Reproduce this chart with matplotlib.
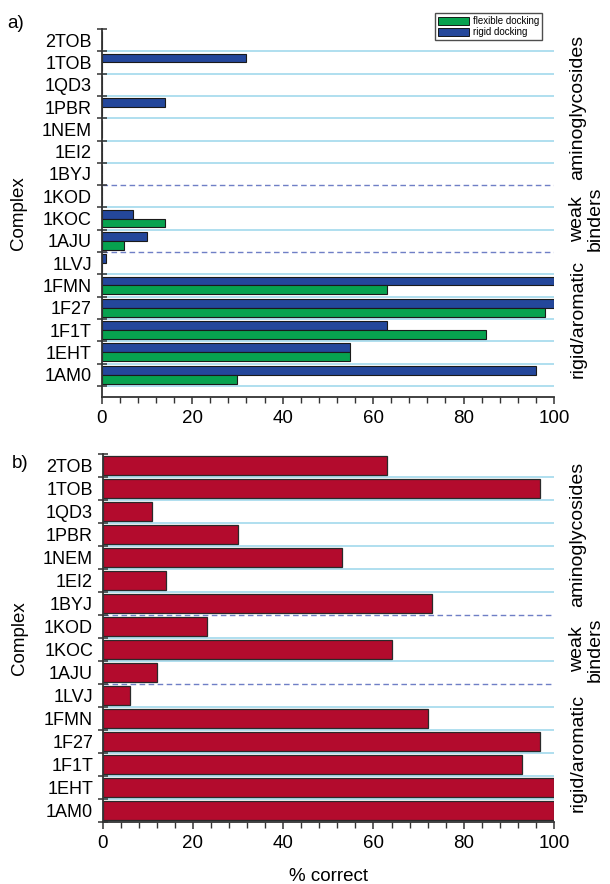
import numpy as np
import matplotlib
matplotlib.use("Agg")
import matplotlib.pyplot as plt
from matplotlib.ticker import MultipleLocator, FixedLocator
from matplotlib.transforms import blended_transform_factory
from matplotlib.patches import Patch

plt.rcParams['font.family'] = ['Liberation Sans', 'DejaVu Sans']

# data (% correct)
complexes = ['2TOB', '1TOB', '1QD3', '1PBR', '1NEM', '1EI2', '1BYJ', '1KOD',
             '1KOC', '1AJU', '1LVJ', '1FMN', '1F27', '1F1T', '1EHT', '1AM0']
rigid = [0, 32, 0, 14, 0, 0, 0, 0, 7, 10, 1, 100, 100, 63, 55, 96]
flexible = [0, 0, 0, 0, 0, 0, 0, 0, 14, 5, 0, 63, 98, 85, 55, 30]
combined = [63, 97, 11, 30, 53, 14, 73, 23, 64, 12, 6, 72, 97, 93, 100, 100]

groups = ['aminoglycosides', 'weak\nbinders', 'rigid/aromatic']
group_first = [0, 7, 10]
group_last = [6, 9, 15]

BLUE = '#24479b'
GREEN = '#07a24f'
RED = '#b30b2d'
GRID = '#a9dcee'
DASH = '#6f7fc6'
SPINE = '#333333'

fig = plt.figure(figsize=(6.1, 8.84), dpi=100)
ax_a = fig.add_axes([0.1667, 0.5509, 0.7415, 0.4163])
ax_b = fig.add_axes([0.1684, 0.0701, 0.7398, 0.4163])

y = np.arange(len(complexes))
bounds = np.arange(len(complexes) + 1) - 0.5
dashed_at = [group_last[0] + 0.5, group_last[1] + 0.5]


def style(ax, ybottom):
    ax.set_xlim(0, 100)
    ax.set_ylim(ybottom, -0.5)
    for b in bounds[1:]:
        if b in dashed_at:
            ax.axhline(b, color=DASH, lw=1.0, ls=(0, (4, 2.5)), zorder=1)
        else:
            ax.axhline(b, color=GRID, lw=1.3, zorder=1)
    for s in ['top', 'right']:
        ax.spines[s].set_visible(False)
    for s in ['left', 'bottom']:
        ax.spines[s].set_color(SPINE)
        ax.spines[s].set_linewidth(1.3)
        ax.spines[s].set_zorder(4)
    ax.set_yticks(y)
    ax.set_yticklabels(complexes, fontsize=13)
    ax.yaxis.set_minor_locator(FixedLocator(bounds))
    ax.tick_params(axis='y', which='major', length=0, pad=7)
    ax.tick_params(axis='y', which='minor', direction='inout', length=7,
                   width=1.1, color=SPINE)
    ax.xaxis.set_major_locator(MultipleLocator(20))
    ax.xaxis.set_minor_locator(MultipleLocator(4))
    ax.tick_params(axis='x', which='major', direction='out', length=5,
                   width=1.1, color=SPINE, labelsize=13.5, pad=4)
    ax.tick_params(axis='x', which='minor', direction='out', length=4,
                   width=1.0, color=SPINE)
    ax.set_ylabel('Complex', fontsize=13.5)
    ax.yaxis.set_label_coords(-0.165, 0.5)
    tr = blended_transform_factory(ax.transAxes, ax.transData)
    for name, g0, g1 in zip(groups, group_first, group_last):
        xpos = 1.071 if '\n' in name else 1.053
        ax.text(xpos, (g0 + g1) / 2.0, name, transform=tr, rotation=90,
                ha='center', va='center', fontsize=14, linespacing=1.05)


# panel a
style(ax_a, 16.0)
ax_a.barh(y - 0.2, rigid, height=0.4, color=BLUE, edgecolor='#1a1a1a',
          lw=0.8, zorder=2)
ax_a.barh(y + 0.2, flexible, height=0.4, color=GREEN, edgecolor='#1a1a1a',
          lw=0.8, zorder=2)

# panel b
style(ax_b, 15.5)
ax_b.barh(y, combined, height=0.84, color=RED, edgecolor='#2a2a2a',
          lw=0.9, zorder=2)
ax_b.set_xlabel('% correct', fontsize=13.5)
ax_b.xaxis.set_label_coords(0.5, -0.125)

handles = [Patch(facecolor=GREEN, edgecolor='k', lw=0.6, label='flexible docking'),
           Patch(facecolor=BLUE, edgecolor='k', lw=0.6, label='rigid docking')]
leg = fig.legend(handles=handles, loc='upper left',
                 bbox_to_anchor=(435 / 610, 1 - 13 / 884), fontsize=7,
                 frameon=True, fancybox=False, edgecolor='#222222',
                 handlelength=3.2, handleheight=0.9, borderpad=0.3,
                 labelspacing=0.15, handletextpad=0.4, borderaxespad=0)
leg.get_frame().set_linewidth(1.0)

fig.text(16 / 610, 1 - 23 / 884, 'a)', fontsize=13.5, ha='center', va='center')
fig.text(20 / 610, 1 - 463 / 884, 'b)', fontsize=13.5, ha='center', va='center')

fig.savefig('out.png', dpi=100)
